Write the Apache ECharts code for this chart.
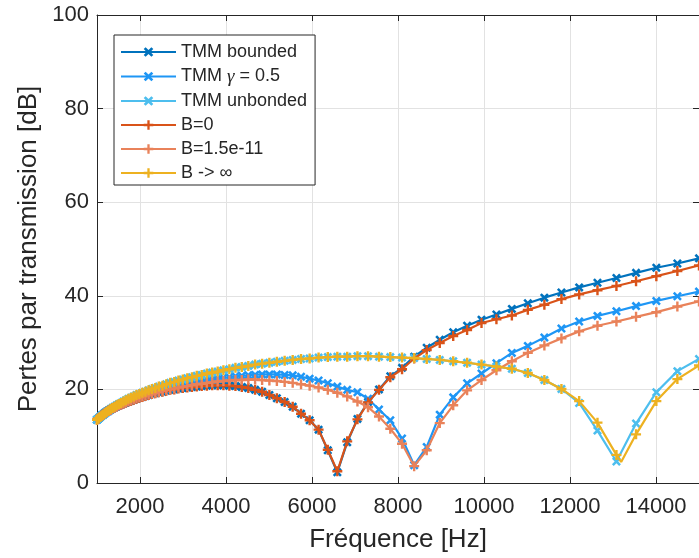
<!DOCTYPE html>
<html>
<head>
<meta charset="utf-8">
<title>Pertes par transmission</title>
<script src="https://cdn.jsdelivr.net/npm/echarts@6/dist/echarts.min.js"></script>
<style>
  html, body { margin: 0; padding: 0; background: #fff; }
  #chart { width: 699px; height: 558px; }
</style>
</head>
<body>
<div id="chart"></div>
<script>
// frequency grid (Hz), log spaced as in the measurement
var freq = [1000,1035,1071,1108,1147,1187,1228,1271,1316,1361,
  1409,1458,1509,1562,1616,1672,1731,1791,1854,1918,
  1985,2054,2126,2200,2277,2356,2438,2523,2611,2702,
  2797,2894,2995,3100,3208,3320,3435,3555,3679,3807,
  3940,4078,4220,4367,4519,4677,4840,5009,5183,5364,
  5551,5745,5945,6153,6367,6589,6819,7057,7303,7558,
  7821,8094,8376,8668,8971,9284,9607,9942,10289,10648,
  11019,11404,11801,12213,12639,13080,13536,14008,14497,15000];

var tmmBounded = [13.5,13.8,14.1,14.4,14.7,15.0,15.2,15.5,15.7,16.0,
  16.2,16.4,16.6,16.8,17.0,17.2,17.4,17.6,17.8,18.0,
  18.2,18.4,18.6,18.8,19.0,19.2,19.4,19.5,19.7,19.9,
  20.0,20.2,20.3,20.4,20.5,20.6,20.7,20.8,20.9,20.9,
  20.9,20.8,20.7,20.5,20.3,19.9,19.5,18.8,18.1,17.3,
  16.3,14.8,13.4,11.4,7.0,2.3,8.7,13.7,17.3,20.0,
  22.8,24.6,27.0,28.9,30.6,32.2,33.6,34.9,36.0,37.2,
  38.4,39.6,40.7,41.8,42.8,43.8,44.9,46.0,46.9,48.0];

var tmmGamma = [13.5,13.8,14.1,14.4,14.6,14.9,15.2,15.4,15.7,15.9,
  16.2,16.4,16.7,16.9,17.1,17.4,17.6,17.8,18.1,18.3,
  18.5,18.7,18.9,19.1,19.3,19.5,19.7,19.9,20.1,20.3,
  20.5,20.7,20.9,21.1,21.3,21.5,21.7,21.9,22.1,22.3,
  22.5,22.6,22.8,22.9,23.0,23.1,23.2,23.2,23.2,23.1,
  23.0,22.7,22.3,21.9,21.3,20.6,19.9,19.4,18.0,15.7,
  13.4,9.5,3.8,7.7,14.6,18.3,21.3,23.4,25.6,27.8,
  29.3,31.1,33.0,34.5,35.7,36.7,37.8,38.9,39.9,40.9];

var tmmUnbonded = [13.5,13.8,14.1,14.4,14.6,14.9,15.2,15.5,15.8,16.0,
  16.3,16.6,16.9,17.1,17.4,17.7,18.0,18.2,18.5,18.8,
  19.0,19.3,19.5,19.8,20.1,20.3,20.6,20.8,21.1,21.4,
  21.6,21.9,22.1,22.4,22.6,22.9,23.1,23.4,23.6,23.8,
  24.1,24.3,24.6,24.8,25.0,25.3,25.5,25.7,25.9,26.1,
  26.3,26.5,26.6,26.8,26.9,27.0,27.0,27.1,27.1,27.0,
  26.9,26.8,26.7,26.5,26.3,26.0,25.7,25.3,24.9,24.4,
  23.5,22.0,20.1,17.1,11.2,4.6,12.7,19.4,23.9,26.5];

var bZero = [13.5,13.8,14.1,14.4,14.7,15.0,15.2,15.5,15.7,16.0,
  16.2,16.4,16.6,16.8,17.0,17.2,17.4,17.6,17.8,18.0,
  18.2,18.4,18.6,18.8,19.0,19.2,19.4,19.5,19.7,19.9,
  20.0,20.2,20.3,20.4,20.5,20.6,20.7,20.8,20.9,20.9,
  20.9,20.8,20.7,20.5,20.3,19.9,19.5,18.8,18.1,17.3,
  16.3,14.8,13.4,11.4,7.1,2.5,8.9,13.6,17.2,19.9,
  22.6,24.3,26.6,28.4,29.9,31.4,32.7,34.2,35.0,35.8,
  37.0,38.1,39.3,40.3,41.2,42.1,43.1,44.2,45.3,46.5];

var bMid = [13.5,13.8,14.1,14.3,14.6,14.9,15.1,15.4,15.6,15.9,
  16.1,16.3,16.6,16.8,17.0,17.2,17.5,17.7,17.9,18.1,
  18.3,18.5,18.7,18.9,19.1,19.3,19.5,19.7,19.9,20.0,
  20.2,20.4,20.6,20.7,20.9,21.1,21.2,21.4,21.5,21.7,
  21.8,21.9,22.0,22.0,22.1,22.1,22.0,21.9,21.8,21.6,
  21.4,21.1,20.8,20.4,19.9,19.3,18.5,17.4,16.2,14.2,
  11.6,8.4,3.6,7.0,12.8,16.6,19.8,22.0,24.1,26.0,
  27.8,29.4,30.9,32.4,33.6,34.5,35.5,36.5,37.7,38.8];

var bInf = [13.5,13.8,14.1,14.4,14.6,14.9,15.2,15.5,15.8,16.0,
  16.3,16.6,16.9,17.1,17.4,17.7,18.0,18.2,18.5,18.8,
  19.0,19.3,19.5,19.8,20.1,20.3,20.6,20.8,21.1,21.4,
  21.6,21.9,22.1,22.4,22.6,22.9,23.1,23.4,23.6,23.8,
  24.1,24.3,24.6,24.8,25.0,25.3,25.5,25.7,25.9,26.1,
  26.3,26.5,26.6,26.8,26.9,27.0,27.0,27.1,27.1,27.0,
  26.9,26.8,26.7,26.5,26.3,26.0,25.7,25.3,24.9,24.4,
  23.5,22.0,20.1,17.5,12.9,6.0,10.4,17.5,22.2,25.1];
// bottom of the B -> inf dip lies between two markers
var bInfDip = [[13190, 4.5]];

var names = ["TMM bounded", "TMM γ = 0.5", "TMM unbonded", "B=0", "B=1.5e-11", "B -> ∞"];
var colors = ["#0072BD", "#1E96F5", "#4DBEEE", "#D95319", "#E9825A", "#EDB120"];

var crossPath = "path://M0,2L2,0L5,3L8,0L10,2L7,5L10,8L8,10L5,7L2,10L0,8L3,5Z";
var plusPath = "path://M3.8,0H6.2V3.8H10V6.2H6.2V10H3.8V6.2H0V3.8H3.8Z";

function pairs(vals, extra) {
  var out = freq.map(function (f, i) { return [f, vals[i]]; });
  (extra || []).forEach(function (p) {
    out.push({ value: p, symbol: "none" });
  });
  out.sort(function (a, b) {
    var xa = a.value ? a.value[0] : a[0];
    var xb = b.value ? b.value[0] : b[0];
    return xa - xb;
  });
  return out;
}

var seriesData = [
  pairs(tmmBounded),
  pairs(tmmGamma),
  pairs(tmmUnbonded),
  pairs(bZero),
  pairs(bMid),
  pairs(bInf, bInfDip)
];

var txt = "#262626";
var font = "Liberation Sans, Arial, Helvetica, sans-serif";

var series = seriesData.map(function (d, i) {
  var isTmm = i < 3;
  return {
    name: names[i],
    type: "line",
    data: d,
    symbol: isTmm ? crossPath : plusPath,
    symbolSize: isTmm ? 9 : 10,
    showAllSymbol: true,
    lineStyle: { width: 2.2, color: colors[i] },
    itemStyle: { color: colors[i], borderWidth: 0 },
    emphasis: { disabled: true },
    z: 2 + i
  };
});

function xAxisBase(pos) {
  return {
    type: "value",
    min: 1000,
    max: 15000,
    splitNumber: 7,
    position: pos,
    axisLine: { show: true, onZero: false, lineStyle: { color: txt, width: 1 } },
    axisTick: { show: true, inside: true, length: 6, lineStyle: { color: txt } }
  };
}
function yAxisBase(pos) {
  return {
    type: "value",
    min: 0,
    max: 100,
    interval: 20,
    position: pos,
    axisLine: { show: true, onZero: false, lineStyle: { color: txt, width: 1 } },
    axisTick: { show: true, inside: true, length: 6, lineStyle: { color: txt } }
  };
}

var xBottom = Object.assign(xAxisBase("bottom"), {
  axisLabel: {
    fontSize: 22, color: txt, fontFamily: font, margin: 13,
    showMinLabel: false, showMaxLabel: false,
    formatter: function (v) { return String(v); }
  },
  splitLine: { show: true, lineStyle: { color: "#e2e2e2", width: 1 } },
  name: "Fréquence [Hz]",
  nameLocation: "middle",
  nameGap: 44,
  nameTextStyle: { fontSize: 26, color: txt, fontFamily: font }
});
var xTop = Object.assign(xAxisBase("top"), {
  axisLabel: { show: false },
  splitLine: { show: false }
});
var yLeft = Object.assign(yAxisBase("left"), {
  axisLabel: { fontSize: 22, color: txt, fontFamily: font, margin: 8 },
  splitLine: { show: true, lineStyle: { color: "#e2e2e2", width: 1 } },
  name: "Pertes par transmission [dB]",
  nameLocation: "middle",
  nameGap: 54,
  nameTextStyle: { fontSize: 26, color: txt, fontFamily: font }
});
var yRight = Object.assign(yAxisBase("right"), {
  axisLabel: { show: false },
  splitLine: { show: false }
});

var option = {
  animation: false,
  backgroundColor: "#ffffff",
  textStyle: { fontFamily: font, color: txt },
  grid: { left: 97, top: 15, right: -2, bottom: 75, containLabel: false },
  xAxis: [xBottom, xTop],
  yAxis: [yLeft, yRight],
  legend: {
    orient: "vertical",
    left: 114,
    top: 35,
    data: names,
    itemWidth: 55,
    itemHeight: 12,
    itemGap: 6,
    itemTextGap: 5,
    padding: [8, 8, 3, 6],
    backgroundColor: "#ffffff",
    borderColor: txt,
    borderWidth: 1,
    borderRadius: 0,
    selectedMode: false,
    formatter: function (name) { return name.replace("γ", "{g|γ}"); },
    textStyle: {
      fontSize: 18,
      lineHeight: 18,
      color: txt,
      fontFamily: font,
      rich: {
        g: { fontSize: 19, lineHeight: 18, fontStyle: "italic", fontFamily: "Liberation Serif, Times New Roman, serif", color: txt }
      }
    }
  },
  series: series
};

var myChart = echarts.init(document.getElementById("chart"), null, { renderer: "canvas" });
option && myChart.setOption(option);
</script>
</body>
</html>
